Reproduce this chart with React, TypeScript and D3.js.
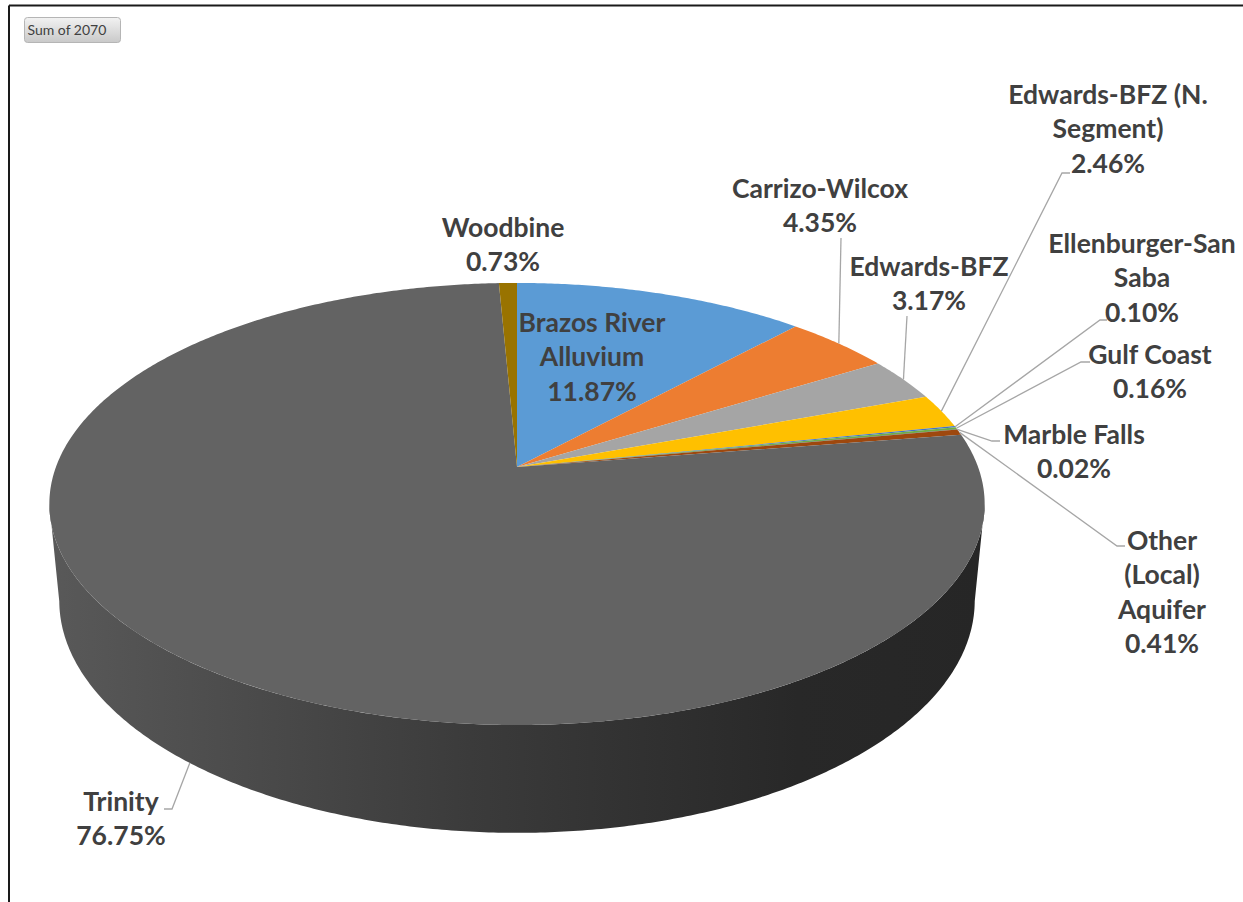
import React from "react";
import * as d3 from "d3";

// ---- data ----
const categories = [
  "Brazos River Alluvium",
  "Carrizo-Wilcox",
  "Edwards-BFZ",
  "Edwards-BFZ (N. Segment)",
  "Ellenburger-San Saba",
  "Gulf Coast",
  "Marble Falls",
  "Other (Local) Aquifer",
  "Trinity",
  "Woodbine",
];
const percents = [11.87, 4.35, 3.17, 2.46, 0.1, 0.16, 0.02, 0.41, 76.75, 0.73];
const labelNameLines = [
  ["Brazos River", "Alluvium"],
  ["Carrizo-Wilcox"],
  ["Edwards-BFZ"],
  ["Edwards-BFZ (N.", "Segment)"],
  ["Ellenburger-San", "Saba"],
  ["Gulf Coast"],
  ["Marble Falls"],
  ["Other", "(Local)", "Aquifer"],
  ["Trinity"],
  ["Woodbine"],
];
const colors = [
  "#5B9BD5", "#ED7D31", "#A5A5A5", "#FFC000", "#4472C4",
  "#70AD47", "#264478", "#9E480E", "#636363", "#997300",
];
const buttonText = "Sum of 2070";

// ---- layout (label placement, leader elbows) ----
const labelLayout: { x: number; y: number; leader: [number, number][] | null }[] = [
  { x: 592, y: 322, leader: null },
  { x: 820, y: 188, leader: [[841, 238]] },
  { x: 929, y: 266, leader: [[907, 316]] },
  { x: 1108, y: 94, leader: [[1070, 173], [1062, 173]] },
  { x: 1142, y: 243, leader: [[1107, 320], [1100, 320]] },
  { x: 1150, y: 354, leader: [[1090, 362], [1081, 362]] },
  { x: 1074, y: 434, leader: [[1000, 441], [992, 441]] },
  { x: 1162, y: 540, leader: [[1125, 546], [1117, 546]] },
  { x: 121, y: 801, leader: [[164, 809], [172, 809]] },
  { x: 503, y: 227, leader: null },
];

const W = 1243;
const H = 902;
const CX = 517;
const CY = 467;
const DIST = 5.29;
const SIN_A = 0.466;
const COS_A = Math.sqrt(1 - SIN_A * SIN_A);
const FOCAL = 2439;
const THICK = 0.239;
const LINE_H = 34.3;

function proj(theta: number, r: number, y: number): [number, number] {
  const x = r * Math.sin(theta);
  const z = -r * Math.cos(theta);
  const depth = DIST - y * SIN_A - z * COS_A;
  return [CX + (FOCAL * x) / depth, CY + (FOCAL * (z * SIN_A - y * COS_A)) / depth];
}

function arcPoints(a0: number, a1: number, y: number): [number, number][] {
  const n = Math.max(2, Math.ceil(Math.abs(a1 - a0) / (Math.PI / 360)));
  const pts: [number, number][] = [];
  for (let i = 0; i <= n; i++) {
    const t = a0 + ((a1 - a0) * i) / n;
    pts.push(proj(t, 1, y));
  }
  return pts;
}

export default function App() {
  const pie = d3
    .pie<number>()
    .value((d) => d)
    .sort(null)(percents);

  // silhouette angles
  let thR = 0;
  let thL = Math.PI;
  let maxX = -Infinity;
  let minX = Infinity;
  for (let i = 0; i <= 3600; i++) {
    const t = (i / 3600) * 2 * Math.PI;
    const [sx] = proj(t, 1, 0);
    if (sx > maxX) { maxX = sx; thR = t; }
    if (sx < minX) { minX = sx; thL = t; }
  }

  const line = d3.line<[number, number]>();
  const pctFmt = (v: number) => d3.format(".2f")(v) + "%";

  const walls: React.ReactNode[] = [];
  pie.forEach((p, i) => {
    const a0 = Math.max(p.startAngle, thR);
    const a1 = Math.min(p.endAngle, thL);
    if (a1 <= a0) return;
    const top = arcPoints(a0, a1, 0);
    const bot = arcPoints(a1, a0, -THICK);
    walls.push(
      <path key={"w" + i} d={line([...top, ...bot])! + "Z"} fill={`url(#wallGrad${i})`} />
    );
  });

  const tops = pie.map((p, i) => {
    const pts: [number, number][] = [[CX, CY], ...arcPoints(p.startAngle, p.endAngle, 0)];
    return <path key={"t" + i} d={line(pts)! + "Z"} fill={colors[i]} />;
  });

  const leaders = pie.map((p, i) => {
    const L = labelLayout[i];
    if (!L.leader) return null;
    const mid = (p.startAngle + p.endAngle) / 2;
    const front = -Math.cos(mid) > 0;
    const anchor = proj(mid, 1, front ? -THICK : 0);
    const pts: [number, number][] = [...L.leader, anchor];
    return (
      <path key={"l" + i} d={line(pts)!} fill="none" stroke="#A6A6A6" strokeWidth={1.3} />
    );
  });

  const labels = pie.map((p, i) => {
    const L = labelLayout[i];
    const lines = [...labelNameLines[i], pctFmt(percents[i])];
    return (
      <text
        key={"x" + i}
        x={L.x}
        y={L.y}
        textAnchor="middle"
        dominantBaseline="central"
        fontFamily="Lato, 'Open Sans', sans-serif"
        fontWeight={700}
        fontSize={26.5}
        fill="#404040"
      >
        {lines.map((s, k) => (
          <tspan key={k} x={L.x} y={L.y + k * LINE_H}>
            {s}
          </tspan>
        ))}
      </text>
    );
  });

  const shade = (c: string, t: number) => d3.interpolateRgb(c, "#000")(t);

  return (
    <svg
      width={W}
      height={H}
      style={{ position: "absolute", left: 0, top: 0, background: "#fff" }}
    >
      <defs>
        {colors.map((c, i) => (
          <linearGradient
            key={i}
            id={`wallGrad${i}`}
            gradientUnits="userSpaceOnUse"
            x1={minX}
            y1={0}
            x2={maxX}
            y2={0}
          >
            <stop offset="0" stopColor={shade(c, 0.1)} />
            <stop offset="0.45" stopColor={shade(c, 0.4)} />
            <stop offset="0.8" stopColor={shade(c, 0.6)} />
            <stop offset="1" stopColor={shade(c, 0.62)} />
          </linearGradient>
        ))}
        <linearGradient id="btnGrad" x1="0" y1="0" x2="0" y2="1">
          <stop offset="0" stopColor="#f2f2f2" />
          <stop offset="1" stopColor="#c9c9c9" />
        </linearGradient>
      </defs>
      <rect x={0} y={0} width={W} height={H} fill="#fff" />
      <line x1={9} y1={5.5} x2={W} y2={5.5} stroke="#1a1a1a" strokeWidth={2} />
      <line x1={9} y1={5.5} x2={9} y2={H} stroke="#1a1a1a" strokeWidth={2} />
      <rect x={24.5} y={17.5} width={96} height={25} rx={3} fill="url(#btnGrad)" stroke="#b5b5b5" />
      <text x={27.5} y={34.5} fontFamily="Lato, 'Open Sans', sans-serif" fontSize={14} fill="#404040">
        {buttonText}
      </text>
      <g>{walls}</g>
      <g>{tops}</g>
      <g>{leaders}</g>
      <g>{labels}</g>
    </svg>
  );
}
